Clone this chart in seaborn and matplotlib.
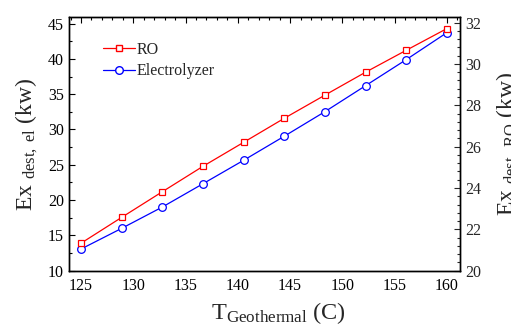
import numpy as np
import pandas as pd
import matplotlib
matplotlib.use("Agg")
import matplotlib.pyplot as plt
import seaborn as sns
from matplotlib.ticker import MultipleLocator
from matplotlib.lines import Line2D

# Data
T_geo = [125.0, 128.89, 132.78, 136.67, 140.56, 144.44, 148.33, 152.22, 156.11, 160.0]
ex_ro = [21.33, 22.58, 23.82, 25.05, 26.21, 27.37, 28.49, 29.60, 30.66, 31.71]
ex_el = [13.07, 16.00, 19.02, 22.32, 25.64, 29.04, 32.52, 36.20, 39.89, 43.71]

sns.set_theme(style="white")
plt.rcParams['font.family'] = ['Liberation Serif', 'DejaVu Serif']
plt.rcParams['mathtext.fontset'] = 'custom'
plt.rcParams['mathtext.rm'] = 'Liberation Serif'
plt.rcParams['mathtext.it'] = 'Liberation Serif:italic'

fig = plt.figure(figsize=(5.11, 3.25), dpi=100)
ax = fig.add_axes([0.135, 0.167, 0.765, 0.78])
ax2 = ax.twinx()

df_el = pd.DataFrame({"T": T_geo, "v": ex_el})
df_ro = pd.DataFrame({"T": T_geo, "v": ex_ro})

sns.lineplot(data=df_el, x="T", y="v", ax=ax, color="#0000ff", lw=0.9,
             marker="o", markersize=5.5, markerfacecolor="white",
             markeredgecolor="#0000ff", markeredgewidth=0.9)
sns.lineplot(data=df_ro, x="T", y="v", ax=ax2, color="#ff0000", lw=0.9,
             marker="s", markersize=5, markerfacecolor="white",
             markeredgecolor="#ff0000", markeredgewidth=0.9)

ax.set_xlim(123.85, 161.25)
ax.set_ylim(10, 45.9)
ax2.set_ylim(20, 32.26)

ax.xaxis.set_major_locator(MultipleLocator(5))
ax.xaxis.set_minor_locator(MultipleLocator(1))
ax.yaxis.set_major_locator(MultipleLocator(5))
ax.yaxis.set_minor_locator(MultipleLocator(2.5))
ax2.yaxis.set_major_locator(MultipleLocator(2))
ax2.yaxis.set_minor_locator(MultipleLocator(0.4))

ax.tick_params(axis='both', which='both', direction='in', top=True, right=False,
               labelsize=11.5, colors='black', width=0.8)
ax.tick_params(axis='x', which='both', top=True)
ax.tick_params(which='major', length=4)
ax.tick_params(which='minor', length=2.5)
ax.tick_params(axis='y', which='both', left=True)
ax2.tick_params(axis='y', which='both', direction='in', right=True, labelsize=11.5,
                width=0.8)
ax2.tick_params(which='major', length=4)
ax2.tick_params(which='minor', length=2.5)
ax.tick_params(axis='x', pad=5)

for a in (ax, ax2):
    for s in a.spines.values():
        s.set_color('black')
        s.set_linewidth(1.0)

ax.set_xlabel(r"T$_{\mathrm{Geothermal}}$ (C)", fontsize=17.5, labelpad=4)
ax.xaxis.set_label_coords(0.537, -0.115)
ax.set_ylabel(r"Ex $_{\mathrm{dest,\ el}}$ (kw)", fontsize=17, labelpad=6)
ax2.set_ylabel(r"Ex $_{\mathrm{dest,\ RO}}$ (kw)", fontsize=17, rotation=90, labelpad=10)

handles = [
    Line2D([], [], color="#ff0000", lw=0.9, marker="s", markersize=5,
           markerfacecolor="white", markeredgecolor="#ff0000"),
    Line2D([], [], color="#0000ff", lw=0.9, marker="o", markersize=5.5,
           markerfacecolor="white", markeredgecolor="#0000ff"),
]
ax.legend(handles, ["RO", "Electrolyzer"], loc="upper left",
          bbox_to_anchor=(0.05, 0.96), frameon=False, fontsize=11.5,
          handlelength=2.0, handletextpad=0.1, labelspacing=0.35)

fig.savefig("out.png", dpi=100)
